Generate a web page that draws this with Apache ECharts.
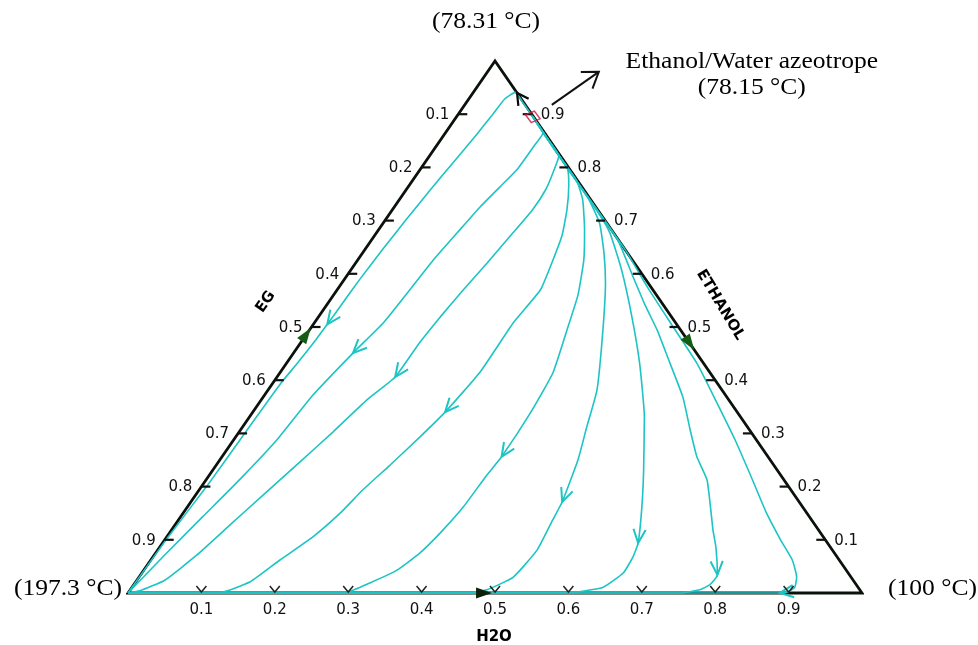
<!DOCTYPE html>
<html>
<head>
<meta charset="utf-8">
<title>Residue curve map: Ethanol / Water / Ethylene glycol</title>
<script src="https://cdn.jsdelivr.net/npm/echarts/dist/echarts.min.js"></script>
<style>
  html, body { margin: 0; padding: 0; background: #ffffff; }
  #chart { width: 978px; height: 645px; }
</style>
</head>
<body>
<div id="chart"></div>
<script>
// Compositions are mole fractions written as [water, ethanol];
// ethylene glycol (EG) is the remainder 1 - water - ethanol.

const AZEOTROPE = [0.104, 0.895];

const VERTEX_EG = [0, 0];
const VERTEX_WATER = [1, 0];
const VERTEX_ETHANOL = [0, 1];

// Residue curves, each starting at the ethanol/water azeotrope and ending at pure EG
const curveA = [AZEOTROPE, [0.08, 0.919], [0.057, 0.941], [0.049, 0.929], [0.047, 0.898], [0.044, 0.861],
  [0.039, 0.814], [0.033, 0.758], [0.028, 0.701], [0.024, 0.645], [0.021, 0.59], [0.02, 0.545],
  [0.019, 0.505], [0.018, 0.476], [0.015, 0.434], [0.011, 0.393], [0.009, 0.306], [0.007, 0.2],
  [0.002, 0.105], [0, 0]];
const curveB = [AZEOTROPE, [0.12, 0.879], [0.133, 0.865], [0.133, 0.838], [0.132, 0.795], [0.125, 0.763],
  [0.117, 0.726], [0.11, 0.677], [0.103, 0.626], [0.099, 0.57], [0.094, 0.508], [0.081, 0.451],
  [0.066, 0.372], [0.059, 0.288], [0.046, 0.215], [0.03, 0.143], [0.014, 0.07], [0, 0]];
const curveC = [AZEOTROPE, [0.14, 0.858], [0.176, 0.822], [0.184, 0.79], [0.19, 0.758], [0.191, 0.72],
  [0.186, 0.677], [0.179, 0.62], [0.172, 0.57], [0.166, 0.519], [0.162, 0.47], [0.161, 0.406],
  [0.144, 0.363], [0.128, 0.303], [0.111, 0.246], [0.092, 0.184], [0.075, 0.128], [0.058, 0.071],
  [0.038, 0.024], [0.014, 0.004], [0, 0]];
const curveD = [AZEOTROPE, [0.15, 0.848], [0.199, 0.799], [0.217, 0.767], [0.238, 0.72], [0.255, 0.673],
  [0.266, 0.626], [0.277, 0.57], [0.271, 0.508], [0.272, 0.415], [0.262, 0.34], [0.251, 0.293],
  [0.237, 0.241], [0.223, 0.194], [0.214, 0.15], [0.199, 0.105], [0.176, 0.062], [0.156, 0.021],
  [0.125, 0.001], [0, 0]];
const curveE = [AZEOTROPE, [0.16, 0.838], [0.223, 0.776], [0.25, 0.739], [0.281, 0.682], [0.308, 0.626],
  [0.333, 0.56], [0.351, 0.494], [0.372, 0.414], [0.379, 0.338], [0.381, 0.256], [0.378, 0.22],
  [0.376, 0.162], [0.369, 0.113], [0.36, 0.075], [0.345, 0.043], [0.32, 0.019], [0.297, 0.002], [0, 0]];
const curveF = [AZEOTROPE, [0.17, 0.828], [0.256, 0.742], [0.295, 0.695], [0.329, 0.639], [0.359, 0.583],
  [0.4, 0.494], [0.448, 0.382], [0.469, 0.312], [0.488, 0.25], [0.506, 0.171], [0.51, 0.137],
  [0.517, 0.081], [0.51, 0.03], [0.486, 0.006], [0.466, 0], [0, 0]];
const curveG = [AZEOTROPE, [0.18, 0.818], [0.282, 0.716], [0.318, 0.677], [0.369, 0.607], [0.427, 0.519],
  [0.481, 0.432], [0.538, 0.331], [0.587, 0.231], [0.62, 0.16], [0.648, 0.094], [0.654, 0.068],
  [0.656, 0.038], [0.642, 0.011], [0.602, 0.001], [0, 0]];
const curveH = [AZEOTROPE, [0.19, 0.808], [0.335, 0.664], [0.388, 0.598], [0.434, 0.541], [0.474, 0.494],
  [0.513, 0.444], [0.572, 0.368], [0.613, 0.306], [0.647, 0.256], [0.683, 0.212], [0.738, 0.118],
  [0.758, 0.086], [0.786, 0.034], [0.785, 0.016], [0.776, 0.006], [0.752, 0], [0, 0]];
const curveI = [AZEOTROPE, [0.2, 0.798], [0.355, 0.645], [0.422, 0.573], [0.485, 0.508], [0.559, 0.432],
  [0.624, 0.357], [0.683, 0.288], [0.745, 0.212], [0.795, 0.15], [0.839, 0.1], [0.874, 0.062],
  [0.896, 0.03], [0.903, 0.011], [0.898, 0.002], [0.888, 0], [0, 0]];

const CURVES = [curveA, curveB, curveC, curveD, curveE, curveF, curveG, curveH, curveI];

// Direction arrows on the curves: [curve index, point index of the arrow tip]
const CURVE_ARROWS = [[0, 12], [1, 11], [2, 11], [3, 10], [4, 10], [5, 10], [6, 10], [7, 13], [8, 15]];

// Direction arrows on the binary edges
const EDGE_ARROWS = [
  { tip: [0, 0.498], toward: VERTEX_ETHANOL, kind: 'solid', color: '#155c15' },
  { tip: [0.543, 0.457], toward: VERTEX_WATER, kind: 'solid', color: '#155c15' },
  { tip: [0.496, 0], toward: VERTEX_WATER, kind: 'solid', color: '#0c200c' },
  { tip: [0.06, 0.94], toward: VERTEX_ETHANOL, kind: 'open', color: '#0a0a0a' }
];

const TICK_VALUES = [0.1, 0.2, 0.3, 0.4, 0.5, 0.6, 0.7, 0.8, 0.9];
const VERTICES = [VERTEX_ETHANOL, VERTEX_EG, VERTEX_WATER];
const VERTEX_LABELS = ['(78.31 °C)', '(197.3 °C)', '(100 °C)'];
const AZEOTROPE_LABEL = ['Ethanol/Water azeotrope', '(78.15 °C)'];
const AXIS_TITLES = ['EG', 'ETHANOL', 'H2O'];
// where each axis title sits along its edge
const AXIS_TITLE_ANCHORS = [[0, 0.547], [0.4586, 0.5414], [0.5, 0]];

const CYAN = '#1cc4c4';
const EDGE = '#0b120b';
const INK = '#111111';
const SERIF = '"Liberation Serif", "Times New Roman", serif';
const SANS = '"DejaVu Sans", Verdana, sans-serif';

// ternary [water, ethanol] -> cartesian; ethanol at the apex
function tern(c) { return [c[0] + c[1] / 2, c[1]]; }

function unit(dx, dy) { const l = Math.hypot(dx, dy) || 1; return [dx / l, dy / l]; }

// open arrowhead: two arms swept back from the tip
function chevron(tip, dir, len, half) {
  const c = Math.cos(half), s = Math.sin(half);
  const bx = -dir[0], by = -dir[1];
  return [
    [tip[0] + len * (bx * c - by * s), tip[1] + len * (bx * s + by * c)],
    tip,
    [tip[0] + len * (bx * c + by * s), tip[1] + len * (-bx * s + by * c)]
  ];
}

const chart = echarts.init(document.getElementById('chart'));

const series = [];

// triangle edges
series.push({
  type: 'line', z: 1, silent: true, clip: false, symbol: 'none',
  data: [VERTEX_EG, VERTEX_WATER, VERTEX_ETHANOL, VERTEX_EG, VERTEX_WATER].map(tern),
  lineStyle: { color: EDGE, width: 2.8, join: 'miter' }
});

// residue curves
CURVES.forEach(c => series.push({
  type: 'line', z: 2, silent: true, clip: false, symbol: 'none', smooth: 0.15,
  data: c.map(tern),
  lineStyle: { color: CYAN, width: 1.6 }
}));

// arrows along the curves
series.push({
  type: 'custom', z: 3, silent: true, clip: false,
  data: CURVE_ARROWS.map(([ci, pi]) => [...tern(CURVES[ci][pi]), ci, pi]),
  renderItem(params, api) {
    const ci = api.value(2), pi = api.value(3);
    const tip = api.coord(tern(CURVES[ci][pi]));
    const prev = api.coord(tern(CURVES[ci][pi - 1]));
    const dir = unit(tip[0] - prev[0], tip[1] - prev[1]);
    return {
      type: 'polyline',
      shape: { points: chevron(tip, dir, 15, 0.42) },
      style: { stroke: CYAN, lineWidth: 2, fill: 'none' }
    };
  }
});

// arrows on the edges
series.push({
  type: 'custom', z: 5, silent: true, clip: false,
  data: EDGE_ARROWS.map((a, i) => [...tern(a.tip), i]),
  renderItem(params, api) {
    const a = EDGE_ARROWS[api.value(2)];
    const tip = api.coord(tern(a.tip));
    const to = api.coord(tern(a.toward));
    const dir = unit(to[0] - tip[0], to[1] - tip[1]);
    if (a.kind === 'open') {
      return {
        type: 'polyline',
        shape: { points: chevron(tip, dir, 13, 0.5) },
        style: { stroke: a.color, lineWidth: 2.2, fill: 'none' }
      };
    }
    const L = 16, W = 5.5;
    const base = [tip[0] - dir[0] * L, tip[1] - dir[1] * L];
    const n = [-dir[1], dir[0]];
    return {
      type: 'polygon',
      shape: { points: [tip, [base[0] + n[0] * W, base[1] + n[1] * W], [base[0] - n[0] * W, base[1] - n[1] * W]] },
      style: { fill: a.color }
    };
  }
});

// tick marks and tick labels for the three edges
function tickSeries(side) {
  return {
    type: 'custom', z: 4, silent: true, clip: false,
    data: TICK_VALUES.map(v => {
      const c = side === 'eg' ? [0, 1 - v] : side === 'ethanol' ? [1 - v, v] : [v, 0];
      return [...tern(c), v];
    }),
    renderItem(params, api) {
      const p = api.coord([api.value(0), api.value(1)]);
      const text = api.value(2).toFixed(1);
      const label = (x, y, align) => ({
        type: 'text', x, y,
        style: { text, fill: INK, fontSize: 15, fontFamily: SANS, align, verticalAlign: 'middle' }
      });
      if (side === 'eg') {
        return { type: 'group', children: [
          { type: 'line', shape: { x1: p[0], y1: p[1], x2: p[0] + 9, y2: p[1] }, style: { stroke: INK, lineWidth: 2.2 } },
          label(p[0] - 9, p[1] + 1, 'right')
        ] };
      }
      if (side === 'ethanol') {
        return { type: 'group', children: [
          { type: 'line', shape: { x1: p[0] - 9, y1: p[1], x2: p[0], y2: p[1] }, style: { stroke: INK, lineWidth: 2.2 } },
          label(p[0] + 9, p[1] + 1, 'left')
        ] };
      }
      return { type: 'group', children: [
        { type: 'polyline', shape: { points: [[p[0] - 5, p[1] - 7], [p[0], p[1] - 1], [p[0] + 5, p[1] - 7]] },
          style: { stroke: '#222', lineWidth: 1.5, fill: 'none' } },
        label(p[0], p[1] + 17, 'center')
      ] };
    }
  };
}
series.push(tickSeries('eg'), tickSeries('ethanol'), tickSeries('water'));

// axis titles
series.push({
  type: 'custom', z: 4, silent: true, clip: false,
  data: AXIS_TITLE_ANCHORS.map((c, i) => [...tern(c), i]),
  renderItem(params, api) {
    const i = api.value(2);
    const p = api.coord([api.value(0), api.value(1)]);
    const place = [[-63, 0, 55], [57, 0, -59], [-1, 44, 0]][i];
    return {
      type: 'text', x: p[0] + place[0], y: p[1] + place[1], rotation: place[2] * Math.PI / 180,
      style: { text: AXIS_TITLES[i], fill: '#000', fontSize: 15, fontWeight: 'bold', fontFamily: SANS,
               align: 'center', verticalAlign: 'middle' }
    };
  }
});

// boiling points at the vertices
series.push({
  type: 'custom', z: 4, silent: true, clip: false,
  data: VERTICES.map((v, i) => [...tern(v), i]),
  renderItem(params, api) {
    const i = api.value(2);
    const p = api.coord([api.value(0), api.value(1)]);
    const place = [[-9, -39, 'center'], [-6, -4, 'right'], [26, -4, 'left']][i];
    return {
      type: 'text', x: p[0] + place[0], y: p[1] + place[1], scaleX: 1.11,
      style: { text: VERTEX_LABELS[i], fill: '#000', fontSize: 23, fontFamily: SERIF,
               align: place[2], verticalAlign: 'middle' }
    };
  }
});

// azeotrope marker
series.push({
  type: 'scatter', z: 6, silent: true,
  data: [tern(AZEOTROPE)],
  symbol: 'diamond', symbolSize: [15, 12], symbolRotate: -15,
  itemStyle: { color: 'rgba(255,255,255,0)', borderColor: '#c8143c', borderWidth: 1.5 }
});

// azeotrope callout
series.push({
  type: 'custom', z: 6, silent: true, clip: false,
  data: [tern(AZEOTROPE)],
  renderItem(params, api) {
    const p = api.coord([api.value(0), api.value(1)]);
    const start = [p[0] + 19, p[1] - 12];
    const tip = [p[0] + 66, p[1] - 45];
    const dir = unit(tip[0] - start[0], tip[1] - start[1]);
    const line = (txt, dy) => ({
      type: 'text', x: p[0] + 219, y: p[1] + dy, scaleX: 1.11,
      style: { text: txt, fill: '#000', fontSize: 23, fontFamily: SERIF, align: 'center', verticalAlign: 'middle' }
    });
    return { type: 'group', children: [
      { type: 'line', shape: { x1: start[0], y1: start[1], x2: tip[0], y2: tip[1] }, style: { stroke: INK, lineWidth: 2 } },
      { type: 'polyline', shape: { points: chevron(tip, dir, 18, 0.6) }, style: { stroke: INK, lineWidth: 2, fill: 'none' } },
      line(AZEOTROPE_LABEL[0], -55),
      line(AZEOTROPE_LABEL[1], -29)
    ] };
  }
});

chart.setOption({
  animation: false,
  backgroundColor: '#ffffff',
  grid: { left: 128, top: 61, width: 734, height: 532, show: false, outerBoundsMode: 'none' },
  xAxis: { type: 'value', min: 0, max: 1, show: false },
  yAxis: { type: 'value', min: 0, max: 1, show: false },
  series
});
</script>
</body>
</html>
